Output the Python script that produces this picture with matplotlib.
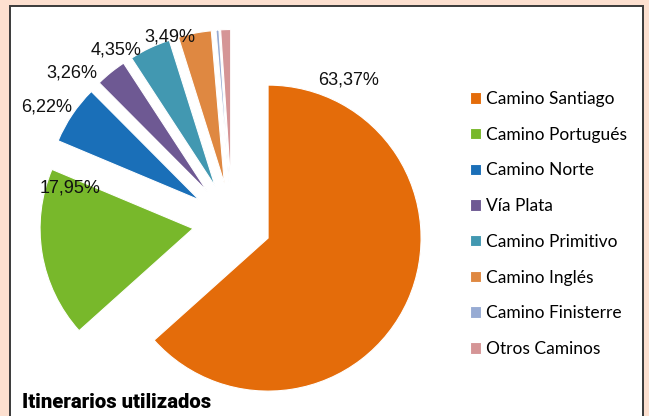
import matplotlib.pyplot as plt
from matplotlib.patches import Rectangle

# datos
caminos = ['Camino Santiago', 'Camino Portugués', 'Camino Norte', 'Vía Plata',
           'Camino Primitivo', 'Camino Inglés', 'Camino Finisterre', 'Otros Caminos']
porcentajes = [63.37, 17.95, 6.22, 3.26, 4.35, 3.49, 0.31, 1.05]
con_etiqueta = [True, True, True, True, True, True, False, False]

colores = ['#e46c0a', '#78b82b', '#1a6fb8', '#6e5993',
           '#4298b1', '#df8841', '#97abd3', '#d59596']

W, H = 649, 416
cx, cy, R = 232, H - 222, 153           # centro y radio de la tarta (px)
# posiciones de las etiquetas (px desde arriba a la izquierda)
pos_etiquetas = [(349, 80), (70, 188), (47, 107), (72, 73), (116, 50), (170, 37)]

fig = plt.figure(figsize=(W / 100, H / 100), dpi=100, facecolor='#fde0d0')
fig.add_artist(Rectangle((10 / W, -0.1), (643 - 10) / W, 1.1 - 6 / H,
                         transform=fig.transFigure, facecolor='white',
                         edgecolor='#3a3a3a', lw=1.4, zorder=-10))

ax = fig.add_axes([0, 0, 1, 1])
ax.set_facecolor('none')

wedges, _ = ax.pie(porcentajes, colors=colores, startangle=90, counterclock=False,
                   explode=[39.5 / R] * len(porcentajes),
                   wedgeprops=dict(edgecolor='white', linewidth=0.8))
ax.set_aspect('auto')
ax.set_xlim(-cx / R, (W - cx) / R)
ax.set_ylim(-cy / R, (H - cy) / R)
ax.axis('off')

for v, show, (px, py) in zip(porcentajes, con_etiqueta, pos_etiquetas + [(0, 0)] * 2):
    if not show:
        continue
    txt = f"{v:.2f}".replace('.', ',') + '%'
    ax.text((px - cx) / R, (H - py - cy) / R, txt, ha='center', va='center',
            fontsize=13, family='Liberation Sans', color='#111111')

fs = 12.5
fpx = fs * 100 / 72
fig.legend(wedges, caminos, loc='upper left', bbox_to_anchor=(470 / W, 1 - 91 / H),
           frameon=False, borderpad=0, borderaxespad=0,
           handlelength=11 / fpx, handleheight=11 / fpx, handletextpad=5 / fpx,
           labelspacing=1.135, prop=dict(family='Lato', size=fs))

fig.text(22 / W, 1 - 408 / H, 'Itinerarios utilizados', va='baseline', ha='left',
         fontsize=14.6, fontweight='black', family='Roboto')

fig.savefig('out.png', dpi=100, facecolor=fig.get_facecolor())
